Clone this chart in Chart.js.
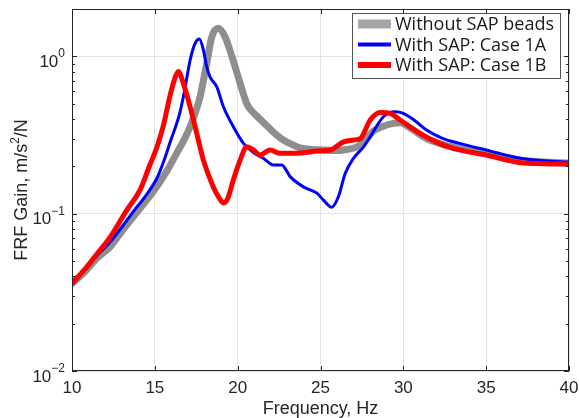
<!DOCTYPE html>
<html lang="en">
<head>
<meta charset="UTF-8">
<title>FRF Gain</title>
<script src="https://cdn.jsdelivr.net/npm/chart.js"></script>
<style>
  body { margin: 0; background: #fff; }
  #wrap { width: 579px; height: 418px; }
</style>
</head>
<body>
<div id="wrap"><canvas id="frfChart" width="579" height="418"></canvas></div>
<script>
// values: frequency in Hz, gain in m/s^2/N
const freqNoSap = [10.0, 10.8, 11.5, 12.3, 13.0, 13.7, 14.4, 15.1, 15.7, 16.3, 16.8, 17.13, 17.45, 17.73, 18.13, 18.44, 18.84, 19.24, 19.65, 20.15, 20.55, 20.85, 21.2, 21.9, 22.3, 22.76, 23.3, 23.77, 24.5, 25.2, 25.8, 26.4, 27.2, 27.6, 28.2, 28.8, 29.4, 29.8, 30.5, 31.4, 32.4, 33.4, 35.0, 36.0, 37.06, 38.5, 40.0];
const gainNoSap = [0.036, 0.043, 0.052, 0.0616, 0.077, 0.0955, 0.118, 0.148, 0.185, 0.24, 0.30, 0.357, 0.44, 0.553, 0.90, 1.33, 1.51, 1.33, 1.0, 0.673, 0.50, 0.45, 0.413, 0.35, 0.32, 0.294, 0.275, 0.262, 0.256, 0.254, 0.252, 0.254, 0.266, 0.285, 0.335, 0.36, 0.375, 0.378, 0.345, 0.30, 0.275, 0.26, 0.242, 0.23, 0.219, 0.213, 0.21];

const freqCase1A = [10.0, 10.8, 11.5, 12.3, 13.0, 13.7, 14.4, 15.1, 15.5, 15.9, 16.5, 16.8, 17.13, 17.43, 17.69, 17.93, 18.13, 18.33, 18.74, 19.14, 19.74, 20.35, 20.95, 21.55, 22.16, 22.66, 23.17, 23.97, 24.78, 25.18, 25.68, 26.08, 26.49, 26.99, 27.6, 28.0, 28.8, 29.5, 30.0, 30.7, 31.4, 32.4, 33.4, 35.0, 37.06, 38.5, 40.0];
const gainCase1A = [0.036, 0.044, 0.054, 0.066, 0.082, 0.103, 0.128, 0.166, 0.21, 0.28, 0.434, 0.61, 0.947, 1.21, 1.29, 1.10, 0.86, 0.74, 0.64, 0.478, 0.357, 0.28, 0.245, 0.225, 0.204, 0.204, 0.172, 0.148, 0.135, 0.122, 0.110, 0.128, 0.18, 0.225, 0.266, 0.308, 0.413, 0.444, 0.434, 0.39, 0.34, 0.30, 0.28, 0.254, 0.225, 0.217, 0.213];

const freqCase1B = [10.0, 10.9, 11.6, 12.3, 13.3, 14.1, 14.7, 15.1, 15.5, 15.9, 16.2, 16.42, 16.72, 17.13, 17.53, 17.93, 18.53, 18.9, 19.14, 19.4, 19.74, 20.15, 20.55, 20.95, 21.35, 21.96, 22.56, 23.17, 23.97, 24.78, 25.58, 26.39, 26.99, 27.4, 28.0, 28.6, 29.2, 29.8, 31.0, 32.0, 33.0, 35.0, 37.06, 38.5, 40.0];
const gainCase1B = [0.036, 0.046, 0.057, 0.071, 0.105, 0.141, 0.204, 0.26, 0.357, 0.553, 0.72, 0.80, 0.673, 0.478, 0.324, 0.219, 0.148, 0.125, 0.117, 0.125, 0.164, 0.219, 0.266, 0.254, 0.236, 0.254, 0.242, 0.242, 0.244, 0.25, 0.254, 0.286, 0.294, 0.30, 0.394, 0.44, 0.434, 0.394, 0.324, 0.285, 0.26, 0.236, 0.211, 0.208, 0.207];

const seriesNames = ['Without SAP beads', 'With SAP: Case 1A', 'With SAP: Case 1B'];
const xTicks = [10, 15, 20, 25, 30, 35, 40];
const yDecades = [0.01, 0.1, 1];

const toPoints = (f, g) => f.map((v, i) => ({ x: v, y: g[i] }));
const isDecade = v => Math.abs(Math.log10(v) - Math.round(Math.log10(v))) < 1e-6;

const axisFont = size => size + 'px "Liberation Sans", Arial, sans-serif';

// box, inward ticks, tick labels with exponents, axis titles and legend
const frameAndLabels = {
    id: 'frameAndLabels',
    afterDraw(chart) {
        const { ctx, chartArea: a, scales: { x, y } } = chart;
        ctx.save();
        ctx.strokeStyle = '#262626';
        ctx.lineWidth = 1;
        ctx.strokeRect(a.left + 0.5, a.top + 0.5, a.right - a.left - 1, a.bottom - a.top - 1);

        function seg(x1, y1, x2, y2) {
            ctx.beginPath(); ctx.moveTo(x1, y1); ctx.lineTo(x2, y2); ctx.stroke();
        }
        xTicks.forEach(v => {
            const px = Math.round(x.getPixelForValue(v)) + 0.5;
            seg(px, a.bottom, px, a.bottom - 5);
            seg(px, a.top, px, a.top + 5);
        });
        yDecades.forEach(d => {
            for (let m = 1; m <= 9; m++) {
                const v = m * d;
                if (v > y.max) break;
                const py = Math.round(y.getPixelForValue(v)) + 0.5;
                const len = m === 1 ? 5 : 3;
                seg(a.left, py, a.left + len, py);
                seg(a.right, py, a.right - len, py);
            }
        });

        // tick labels
        ctx.fillStyle = '#262626';
        ctx.font = axisFont(17);
        ctx.textAlign = 'center';
        ctx.textBaseline = 'alphabetic';
        xTicks.forEach(v => {
            ctx.fillText(String(v), x.getPixelForValue(v), a.bottom + 22);
        });
        yDecades.forEach(d => {
            const py = y.getPixelForValue(d);
            const ex = String(Math.round(Math.log10(d))).replace('-', '\u2212');
            ctx.font = axisFont(12);
            ctx.textAlign = 'right';
            ctx.fillText(ex, a.left - 7, py + 1);
            const ew = ctx.measureText(ex).width;
            ctx.font = axisFont(17);
            ctx.fillText('10', a.left - 7 - ew, py + 10.5);
        });

        // x title
        ctx.font = axisFont(18);
        ctx.textAlign = 'center';
        ctx.fillText('Frequency, Hz', (a.left + a.right) / 2, 414);

        // y title with superscript
        ctx.save();
        ctx.translate(27, (a.top + a.bottom) / 2);
        ctx.rotate(-Math.PI / 2);
        ctx.textAlign = 'left';
        ctx.font = axisFont(18);
        const p1 = 'FRF Gain, m/s', p3 = '/N';
        const w1 = ctx.measureText(p1).width, w3 = ctx.measureText(p3).width;
        ctx.font = axisFont(12);
        const w2 = ctx.measureText('2').width;
        let tx = -(w1 + w2 + w3) / 2;
        ctx.font = axisFont(18); ctx.fillText(p1, tx, 0); tx += w1;
        ctx.font = axisFont(12); ctx.fillText('2', tx, -8); tx += w2;
        ctx.font = axisFont(18); ctx.fillText(p3, tx, 0);
        ctx.restore();

        // legend
        const lx = 352, ly = 13, lw = 208, lh = 65;
        ctx.fillStyle = '#fff';
        ctx.fillRect(lx, ly, lw, lh);
        ctx.strokeStyle = '#555';
        ctx.strokeRect(lx + 0.5, ly + 0.5, lw, lh);
        ctx.font = '18px "Open Sans", Lato, sans-serif';
        ctx.textAlign = 'left';
        ctx.textBaseline = 'middle';
        chart.data.datasets.forEach((ds, i) => {
            const cy = ly + 11 + i * 20.5;
            ctx.strokeStyle = ds.legendColor;
            ctx.lineWidth = ds.legendWidth;
            ctx.lineCap = 'butt';
            seg(lx + 6, cy, lx + 39, cy);
            ctx.fillStyle = '#1a1a1a';
            ctx.fillText(ds.label, lx + 43, cy + 1);
        });
        ctx.restore();
    }
};

const frfChart = new Chart(document.getElementById('frfChart'), {
    type: 'line',
    data: {
        datasets: [{
            label: seriesNames[0],
            data: toPoints(freqNoSap, gainNoSap),
            borderColor: '#8e8e8e',
            borderWidth: 7,
            legendColor: '#a6a6a6',
            legendWidth: 9,
            order: 3
        }, {
            label: seriesNames[1],
            data: toPoints(freqCase1A, gainCase1A),
            borderColor: '#0000ff',
            borderWidth: 3,
            legendColor: '#0000ff',
            legendWidth: 4,
            order: 2
        }, {
            label: seriesNames[2],
            data: toPoints(freqCase1B, gainCase1B),
            borderColor: '#ff0000',
            borderWidth: 5,
            legendColor: '#ff0000',
            legendWidth: 6,
            order: 1
        }]
    },
    options: {
        responsive: false,
        animation: false,
        layout: { padding: { top: 9, right: 10, left: 0, bottom: 0 } },
        elements: {
            point: { radius: 0 },
            line: { cubicInterpolationMode: 'monotone', borderJoinStyle: 'round', borderCapStyle: 'round' }
        },
        plugins: { legend: { display: false }, tooltip: { enabled: false } },
        scales: {
            x: {
                type: 'linear',
                min: 10,
                max: 40,
                ticks: { display: false, stepSize: 5 },
                grid: { color: '#e3e3e3', drawTicks: false },
                border: { display: false },
                afterFit(s) { s.height = 47; }
            },
            y: {
                type: 'logarithmic',
                min: 0.01,
                max: 2,
                ticks: { display: false },
                grid: {
                    drawTicks: false,
                    color: c => (c.tick && isDecade(c.tick.value)) ? '#e3e3e3' : 'rgba(0,0,0,0)'
                },
                border: { display: false },
                afterFit(s) { s.width = 72; }
            }
        }
    },
    plugins: [frameAndLabels]
});
</script>
</body>
</html>
